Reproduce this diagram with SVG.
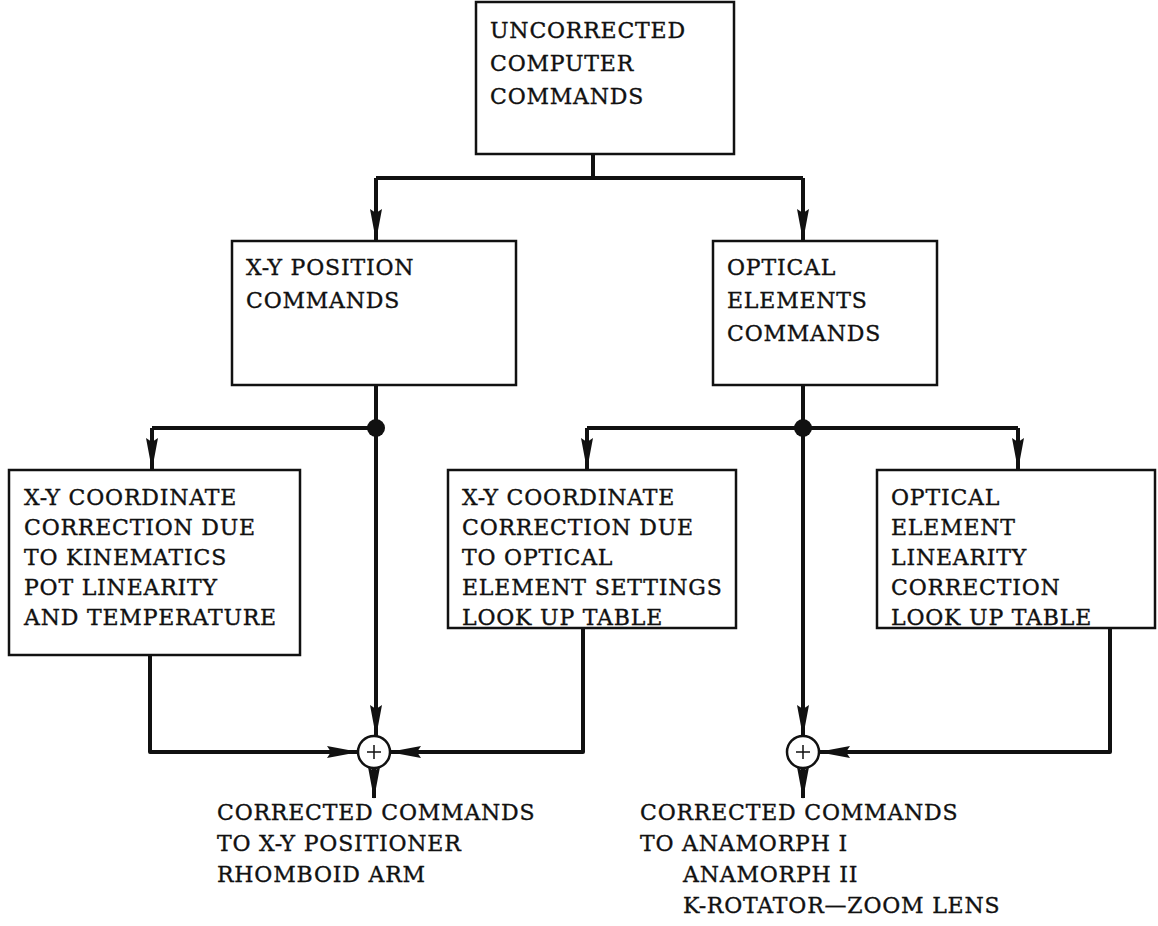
<svg xmlns="http://www.w3.org/2000/svg" width="1158" height="926" viewBox="0 0 1158 926">
<style>
.box{fill:#fff;stroke:#111;stroke-width:2.5}
.t{font-family:"DejaVu Serif","Liberation Serif",serif;font-size:22px;fill:#111;stroke:#111;stroke-width:0.35;letter-spacing:0.8px}
.c{fill:none;stroke:#111;stroke-width:4;stroke-linejoin:round}
.a{fill:none;stroke:#111;stroke-width:4;stroke-linejoin:round;marker-end:url(#ah)}
</style>
<defs>
<marker id="ah" markerUnits="userSpaceOnUse" markerWidth="32" markerHeight="12" viewBox="0 0 32 12" refX="31" refY="6" orient="auto">
<path d="M0,0 L32,6 L0,12 L4,6 Z" fill="#111"/>
</marker>
</defs>
<g id="n-top"><rect class="box" x="476" y="2" width="258" height="152"/>
<text class="t" x="490" y="38">UNCORRECTED</text><text class="t" x="490" y="71">COMPUTER</text><text class="t" x="490" y="104">COMMANDS</text></g>
<g id="n-xypos"><rect class="box" x="232" y="241" width="284" height="144"/>
<text class="t" x="246" y="275">X-Y POSITION</text><text class="t" x="246" y="308">COMMANDS</text></g>
<g id="n-optical"><rect class="box" x="713" y="241" width="224" height="144"/>
<text class="t" x="727" y="275">OPTICAL</text><text class="t" x="727" y="308">ELEMENTS</text><text class="t" x="727" y="341">COMMANDS</text></g>
<g id="n-kin"><rect class="box" x="9" y="470" width="291" height="185"/>
<text class="t" x="24" y="505">X-Y COORDINATE</text><text class="t" x="24" y="535">CORRECTION DUE</text><text class="t" x="24" y="565">TO KINEMATICS</text><text class="t" x="24" y="595">POT LINEARITY</text><text class="t" x="24" y="625">AND TEMPERATURE</text></g>
<g id="n-oes"><rect class="box" x="448" y="470" width="288" height="158"/>
<text class="t" x="462" y="505">X-Y COORDINATE</text><text class="t" x="462" y="535">CORRECTION DUE</text><text class="t" x="462" y="565">TO OPTICAL</text><text class="t" x="462" y="595">ELEMENT SETTINGS</text><text class="t" x="462" y="625">LOOK UP TABLE</text></g>
<g id="n-lin"><rect class="box" x="877" y="470" width="278" height="158"/>
<text class="t" x="891" y="505">OPTICAL</text><text class="t" x="891" y="535">ELEMENT</text><text class="t" x="891" y="565">LINEARITY</text><text class="t" x="891" y="595">CORRECTION</text><text class="t" x="891" y="625">LOOK UP TABLE</text></g>
<g id="n-sum1"><circle cx="374" cy="752" r="16" fill="#fff" stroke="#111" stroke-width="2.5"/><path d="M367,752 H381 M374,745 V759" stroke="#111" stroke-width="1.5"/></g>
<g id="n-sum2"><circle cx="803" cy="752" r="16" fill="#fff" stroke="#111" stroke-width="2.5"/><path d="M796,752 H810 M803,745 V759" stroke="#111" stroke-width="1.5"/></g>
<g id="n-out1"><text class="t" x="217" y="820">CORRECTED COMMANDS</text><text class="t" x="217" y="851">TO X-Y POSITIONER</text><text class="t" x="217" y="882">RHOMBOID ARM</text></g>
<g id="n-out2"><text class="t" x="640" y="820">CORRECTED COMMANDS</text><text class="t" x="640" y="851">TO ANAMORPH I</text><text class="t" x="683" y="882">ANAMORPH II</text><text class="t" x="683" y="913">K-ROTATOR—ZOOM LENS</text></g>
<g id="connectors">
<path class="c" d="M593,154 V178 M376,178 H803 M376,385 V428 M152,428 H376 M803,385 V428 M587,428 H1018"/>
<path class="a" d="M376,178 V240"/>
<path class="a" d="M803,178 V240"/>
<path class="a" d="M152,428 V469"/>
<path class="a" d="M587,428 V469"/>
<path class="a" d="M1018,428 V469"/>
<path class="a" d="M376,428 V736"/>
<path class="a" d="M803,428 V736"/>
<path class="a" d="M150,655 V752 H358"/>
<path class="a" d="M583,628 V752 H390"/>
<path class="a" d="M1110,628 V752 H819"/>
<path class="a" d="M374,768 V798"/>
<path class="a" d="M803,768 V798"/>
<circle cx="376" cy="428" r="9" fill="#111"/>
<circle cx="803" cy="428" r="9" fill="#111"/>
</g>
</svg>
